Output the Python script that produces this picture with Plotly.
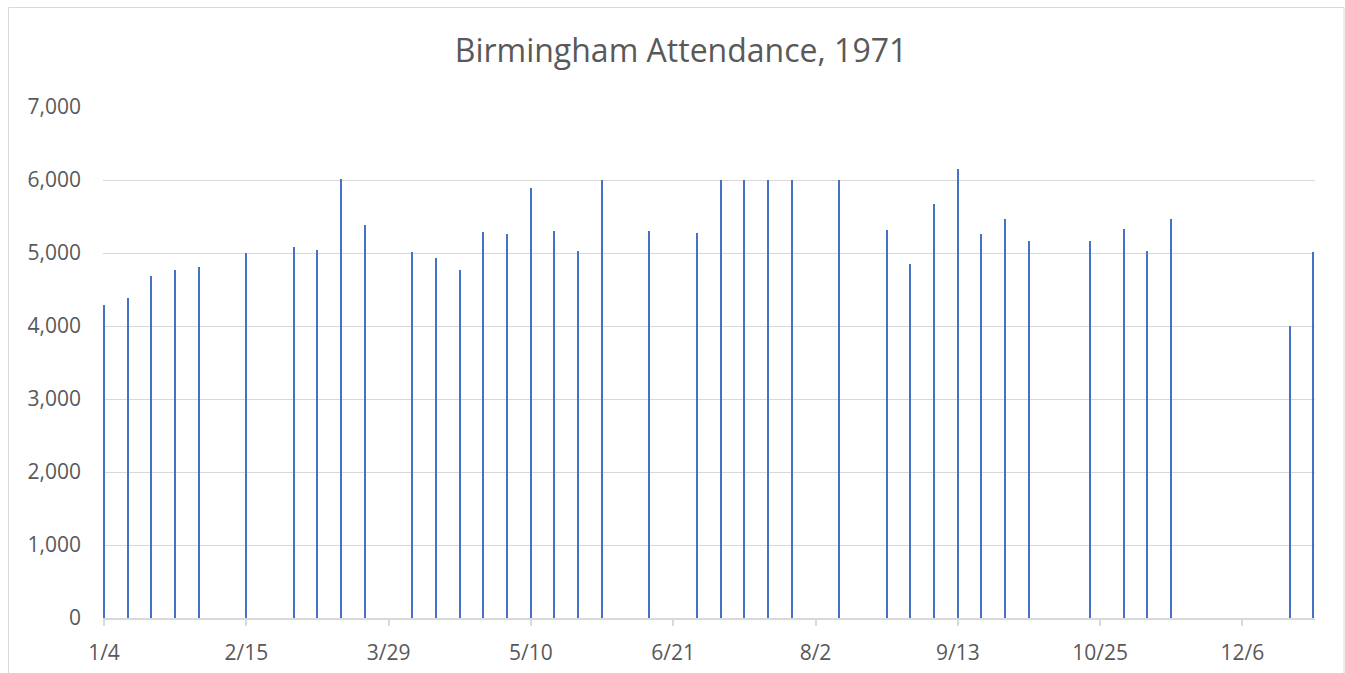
import plotly.graph_objects as go

dates = ['1971-01-04', '1971-01-11', '1971-01-18', '1971-01-25', '1971-02-01',
         '1971-02-15', '1971-03-01', '1971-03-08', '1971-03-15', '1971-03-22',
         '1971-04-05', '1971-04-12', '1971-04-19', '1971-04-26', '1971-05-03',
         '1971-05-10', '1971-05-17', '1971-05-24', '1971-05-31', '1971-06-14',
         '1971-06-28', '1971-07-05', '1971-07-12', '1971-07-19', '1971-07-26',
         '1971-08-09', '1971-08-23', '1971-08-30', '1971-09-06', '1971-09-13',
         '1971-09-20', '1971-09-27', '1971-10-04', '1971-10-22', '1971-11-01',
         '1971-11-08', '1971-11-15', '1971-12-20', '1971-12-27']
attendance = [4290, 4390, 4685, 4765, 4810,
              5000, 5085, 5045, 6015, 5385,
              5010, 4925, 4765, 5285, 5265,
              5885, 5295, 5025, 6000, 5295,
              5280, 6000, 6000, 6000, 6000,
              6000, 5315, 4845, 5665, 6145,
              5265, 5460, 5170, 5170, 5335,
              5025, 5460, 4000, 5020]

title_text = 'Birmingham Attendance, 1971'

W, H = 1345, 673
L, R, T, B = 103, 30, 107, 55
pw, ph = W - L - R, H - T - B

DAY = 86400000

fig = go.Figure()
fig.add_trace(go.Bar(
    x=dates, y=attendance,
    width=0.38 * DAY,
    marker=dict(color='#4472C4', line=dict(width=0)),
    hoverinfo='x+y',
))

def px2paper_x(px):
    return (px - L) / pw

def px2paper_y(py):
    return (H - B - py) / ph

fig.add_shape(type='rect', xref='paper', yref='paper',
              x0=px2paper_x(8.5), x1=px2paper_x(1344),
              y0=px2paper_y(690), y1=px2paper_y(7.5),
              line=dict(color='#D9D9D9', width=1), fillcolor='rgba(0,0,0,0)',
              layer='below')

fig.update_layout(
    width=W, height=H,
    margin=dict(l=L, r=R, t=T, b=B, pad=0),
    paper_bgcolor='white', plot_bgcolor='white',
    template='none',
    showlegend=False,
    bargap=0,
    title=dict(text=title_text, xref='paper', x=px2paper_x(681), xanchor='center',
               yref='container', y=1 - 51 / H, yanchor='middle',
               font=dict(family='Open Sans', size=32, color='#595959')),
    font=dict(family='Open Sans', color='#595959', size=21),
    xaxis=dict(
        type='date',
        range=['1971-01-03 17:00', '1971-12-27 10:00'],
        tick0='1971-01-04', dtick=42 * DAY,
        tickformat='%-m/%-d',
        showgrid=False, zeroline=False,
        showline=True, linecolor='#D9D9D9', linewidth=1.5,
        ticks='outside', ticklen=6, tickcolor='#D9D9D9', tickwidth=1.5,
        ticklabelstandoff=9,
        tickfont=dict(family='Open Sans', size=21, color='#595959'),
    ),
    yaxis=dict(
        range=[0, 7000], dtick=1000, tick0=0,
        tickformat=',',
        showgrid=True, gridcolor='#D9D9D9', gridwidth=1.2,
        zeroline=False, showline=False,
        ticks='', ticklabelstandoff=21,
        tickfont=dict(family='Open Sans', size=21, color='#595959'),
    ),
)

fig.write_html('out.html',
               config={'displayModeBar': False},
               post_script="document.body.style.margin='0';document.body.style.padding='0';")
